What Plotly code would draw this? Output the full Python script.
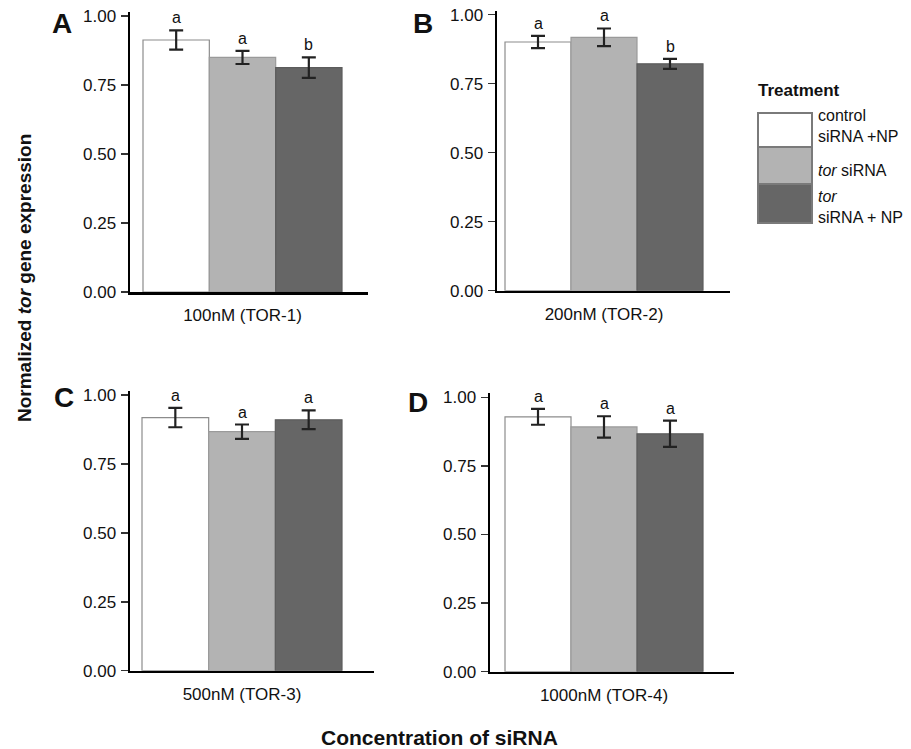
import plotly.graph_objects as go

# ---------------- data ----------------
concentrations = ["100nM (TOR-1)", "200nM (TOR-2)", "500nM (TOR-3)", "1000nM (TOR-4)"]
panel_letters = ["A", "B", "C", "D"]
treatments = ["control<br>siRNA +NP", "<i>tor</i> siRNA", "<i>tor</i><br>siRNA + NP"]

control_np = [0.913, 0.901, 0.918, 0.929]
control_np_err = [0.035, 0.022, 0.035, 0.029]
tor_sirna = [0.850, 0.918, 0.867, 0.892]
tor_sirna_err = [0.024, 0.032, 0.026, 0.039]
tor_sirna_np = [0.813, 0.822, 0.910, 0.867]
tor_sirna_np_err = [0.037, 0.018, 0.034, 0.048]

letters_control_np = ["a", "a", "a", "a"]
letters_tor_sirna = ["a", "a", "a", "a"]
letters_tor_sirna_np = ["b", "b", "a", "a"]

ytick_vals = [0.0, 0.25, 0.5, 0.75, 1.0]

# ---------------- styling / layout ----------------
W, H = 911, 749
FONT = "Liberation Sans, Arial, sans-serif"
TXT = "#111111"
fills = ["#ffffff", "#b3b3b3", "#666666"]
outlines = ["#8c8c8c", "#9a9a9a", "#5c5c5c"]
BARGAP = 0.15
YMAX = 1.015

# pixel geometry of each panel: axis left/right, y-pixel of 0 and of 1, bar group left/right
panels = [
    dict(axL=130, axR=368, y0=292.0, y1=16.0, bl=143, br=342),
    dict(axL=497, axR=730, y0=290.7, y1=14.7, bl=505, br=703),
    dict(axL=130, axR=374, y0=670.7, y1=395.0, bl=142, br=342),
    dict(axL=490, axR=734, y0=671.7, y1=397.3, bl=505, br=703),
]
letter_pos = [(62, 23), (423, 23), (64, 397), (418, 402)]

series = [
    (control_np, control_np_err, letters_control_np),
    (tor_sirna, tor_sirna_err, letters_tor_sirna),
    (tor_sirna_np, tor_sirna_np_err, letters_tor_sirna_np),
]

fig = go.Figure()
annotations = []
layout_axes = {}

for i, p in enumerate(panels):
    n = i + 1
    xa = "x" if n == 1 else f"x{n}"
    ya = "y" if n == 1 else f"y{n}"
    xkey = "xaxis" if n == 1 else f"xaxis{n}"
    ykey = "yaxis" if n == 1 else f"yaxis{n}"

    center = (p["bl"] + p["br"]) / 2
    unit = (p["br"] - p["bl"]) / (1 - BARGAP)
    xr = [(p["axL"] - center) / unit, (p["axR"] - center) / unit]
    ppu = p["y0"] - p["y1"]
    top_px = p["y0"] - YMAX * ppu

    layout_axes[xkey] = dict(
        domain=[p["axL"] / W, p["axR"] / W], anchor=ya, range=xr,
        showline=True, linecolor="black", linewidth=2.5, ticks="",
        showgrid=False, zeroline=False, type="category", autorange=False,
        tickfont=dict(size=17, color=TXT, family=FONT), ticklabelstandoff=6,
    )
    layout_axes[ykey] = dict(
        domain=[1 - p["y0"] / H, 1 - top_px / H], anchor=xa, range=[0, YMAX],
        showline=True, linecolor="black", linewidth=2.5, autorange=False,
        ticks="outside", ticklen=7, tickwidth=1.5, tickcolor="#333333",
        tickvals=ytick_vals, tickformat=".2f", showgrid=False, zeroline=False,
        tickfont=dict(size=17, color=TXT, family=FONT), ticklabelstandoff=1,
    )

    g = 1 - BARGAP
    for j, (vals, errs, lets) in enumerate(series):
        fig.add_trace(go.Bar(
            x=[concentrations[i]], y=[vals[i]], name=treatments[j],
            xaxis=xa, yaxis=ya, offsetgroup=str(j), showlegend=False,
            marker=dict(color=fills[j], line=dict(color=outlines[j], width=1.2)),
            error_y=dict(type="data", array=[errs[i]], color="#222222",
                         thickness=2.2, width=7),
            hoverinfo="skip",
        ))
        offset = (j - 1) * g / 3
        annotations.append(dict(
            x=offset, y=vals[i] + errs[i], xref=xa, yref=ya,
            text=lets[i], showarrow=False, yanchor="bottom", yshift=2,
            font=dict(size=16, color=TXT, family=FONT),
        ))

    lx, ly = letter_pos[i]
    annotations.append(dict(
        x=lx / W, y=1 - ly / H, xref="paper", yref="paper",
        text=f"<b>{panel_letters[i]}</b>", showarrow=False,
        xanchor="center", yanchor="middle",
        font=dict(size=28, color=TXT, family=FONT),
    ))

# axis titles
annotations.append(dict(
    x=24 / W, y=1 - 278 / H, xref="paper", yref="paper", textangle=-90,
    text="<b>Normalized <i>tor</i> gene expression</b>", showarrow=False,
    xanchor="center", yanchor="middle", font=dict(size=19, color=TXT, family=FONT),
))
annotations.append(dict(
    x=439 / W, y=1 - 737 / H, xref="paper", yref="paper",
    text="<b>Concentration of siRNA</b>", showarrow=False,
    xanchor="center", yanchor="middle", font=dict(size=21, color=TXT, family=FONT),
))

# custom legend
shapes = []
box_rows = [(113, 147), (147, 184), (184, 223)]
label_y = [125.5, 170, 207]
for j, (t, b) in enumerate(box_rows):
    shapes.append(dict(
        type="rect", xref="paper", yref="paper",
        x0=758 / W, x1=812 / W, y0=1 - b / H, y1=1 - t / H,
        fillcolor=fills[j], line=dict(color="#7a7a7a", width=2),
    ))
    annotations.append(dict(
        x=816 / W, y=1 - label_y[j] / H, xref="paper", yref="paper",
        text=treatments[j], showarrow=False, xanchor="left", yanchor="middle",
        align="left", font=dict(size=16, color=TXT, family=FONT),
    ))
annotations.append(dict(
    x=756 / W, y=1 - 90 / H, xref="paper", yref="paper",
    text="<b>Treatment</b>", showarrow=False, xanchor="left", yanchor="middle",
    font=dict(size=17, color=TXT, family=FONT),
))

fig.update_layout(
    width=W, height=H, margin=dict(l=0, r=0, t=0, b=0, autoexpand=False),
    paper_bgcolor="white", plot_bgcolor="white",
    barmode="group", bargap=BARGAP, bargroupgap=0,
    showlegend=False, font=dict(family=FONT, color=TXT),
    annotations=annotations, shapes=shapes, **layout_axes,
)

fig.write_html(
    "out.html",
    config={"displayModeBar": False, "staticPlot": True},
    post_script="document.body.style.margin='0';document.body.style.overflow='hidden';",
)
